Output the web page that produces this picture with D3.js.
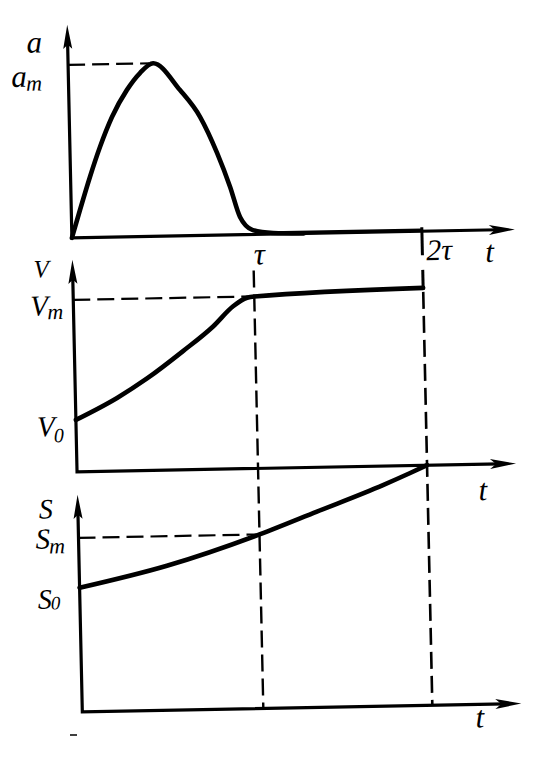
<!DOCTYPE html>
<html><head><meta charset="utf-8">
<script src="https://cdn.jsdelivr.net/npm/d3@7"></script>
<style>html,body{margin:0;background:#fff}svg{display:block}text{font-family:"Liberation Serif","DejaVu Serif",serif;font-style:italic;fill:#000}</style>
</head><body><svg id="c" width="536" height="758"></svg>
<script>
// time in units of tau
const timeTicks = [1, 2];
const timeTickLabels = ["τ", "2τ"];
// acceleration a(t) / a_m
const accT = [0, 0.048, 0.107, 0.166, 0.236, 0.322, 0.396, 0.47, 0.615, 0.723, 0.812, 0.88, 0.931, 1.0, 1.12, 1.3];
const accA = [0, 0.16, 0.35, 0.522, 0.694, 0.849, 0.945, 1.0, 0.842, 0.684, 0.475, 0.277, 0.102, 0.025, 0.006, 0];
// velocity V(t) / V_m
const velT = [0, 0.23, 0.398, 0.60, 0.769, 0.882, 0.96, 1.0, 2.0];
const velV = [0.302, 0.425, 0.535, 0.69, 0.83, 0.945, 0.993, 1.0, 1.031];
// displacement S(t) / S_m
const disT = [0, 0.485, 1.0, 1.343, 1.737, 1.896, 2.0];
const disS = [0.713, 0.83, 1.0, 1.125, 1.27, 1.335, 1.38];

const svg = d3.select("#c");
const g = svg.append("g")
  .attr("transform", "translate(70,470) matrix(1,-0.019,0.022,1,0,0) translate(-70,-470)");

const x = d3.scaleLinear().domain([0, 1, 2]).range([77, 258, 427]);
const yA = d3.scaleLinear().domain([0, 1]).range([238, 65]);
const yV = d3.scaleLinear().domain([0, 1]).range([472, 300]);
const yS = d3.scaleLinear().domain([0, 1]).range([712, 538]);

const panels = [
  {y: yA, top: 25, right: 520},
  {y: yV, top: 260, right: 516},
  {y: yS, top: 495, right: 516}
];

// axes
panels.forEach(p => {
  const x0 = x(0), y0 = p.y(0);
  g.append("path").attr("d", `M${x0},${p.top + 14}L${x0},${y0}L${p.right - 16},${y0}`)
    .attr("fill", "none").attr("stroke", "#000").attr("stroke-width", 3.2).attr("stroke-linejoin", "miter");
  g.append("path").attr("d", `M${x0},${p.top}L${x0 - 4.5},${p.top + 24}L${x0},${p.top + 20}L${x0 + 4.5},${p.top + 24}Z`).attr("fill", "#000");
  g.append("path").attr("d", `M${p.right},${y0}L${p.right - 26},${y0 - 5}L${p.right - 20},${y0}L${p.right - 26},${y0 + 5}Z`).attr("fill", "#000");
});

const line = (xs, ys, yscale) => d3.line().curve(d3.curveMonotoneX)
  .x((d, i) => x(xs[i])).y((d, i) => yscale(ys[i]))(xs);

// dashed guide lines
const dash = "17,7";
function dl(x1, y1, x2, y2, w) {
  g.append("line").attr("x1", x1).attr("y1", y1).attr("x2", x2).attr("y2", y2)
    .attr("stroke", "#000").attr("stroke-width", w || 2.2).attr("stroke-dasharray", dash);
}
const peakT = accT[accA.indexOf(d3.max(accA))];
dl(x(0), yA(1), x(peakT) - 4, yA(1));
dl(x(0), yV(1), x(1), yV(1));
dl(x(0), yS(1), x(1), yS(1));
dl(x(1), 274, x(1), yS(0), 2.4);
dl(x(2), yV(velV[velV.length - 1]) + 4, x(2), yS(0), 2.6);

// solid ticks at 2tau
g.append("line").attr("x1", x(2)).attr("x2", x(2)).attr("y1", yA(0) - 4).attr("y2", yA(0) + 24)
  .attr("stroke", "#000").attr("stroke-width", 3);
g.append("line").attr("x1", x(2)).attr("x2", x(2)).attr("y1", yV(velV[velV.length - 1]) + 2).attr("y2", yV(velV[velV.length - 1]) - 18)
  .attr("stroke", "#000").attr("stroke-width", 3);

// curves
[[accT, accA, yA], [velT, velV, yV], [disT, disS, yS]].forEach(([xs, ys, ysc]) => {
  g.append("path").attr("d", line(xs, ys, ysc)).attr("fill", "none")
    .attr("stroke", "#000").attr("stroke-width", 4.6).attr("stroke-linecap", "round").attr("stroke-linejoin", "round");
});
// a continues along the axis
g.append("line").attr("x1", x(1.1)).attr("x2", x(2)).attr("y1", yA(0) - 1).attr("y2", yA(0) - 1)
  .attr("stroke", "#000").attr("stroke-width", 3.6);

// labels
function label(main, sub, px, py, size, subSize, subDy) {
  const t = g.append("text").attr("x", px).attr("y", py).attr("font-size", size);
  t.append("tspan").text(main);
  if (sub) t.append("tspan").attr("font-size", subSize).attr("dy", subDy).attr("dx", -1).text(sub);
}
label("a", null, 36, 52, 31);
label("a", "m", 20, 86, 31, "22px", 4);
label("V", null, 38, 277, 25);
label("V", "m", 34, 315, 29, "22px", 4);
label("V", "0", 38, 436, 29, "20px", 6);
label("S", null, 38, 518, 28);
label("S", "m", 34, 548, 29, "22px", 5);
label("S", "0", 35, 608, 28, "19px", 1);

g.append("text").attr("x", x(timeTicks[0]) + 6).attr("y", 268).attr("font-size", 31).attr("text-anchor", "middle").text(timeTickLabels[0]);
g.append("text").attr("x", x(timeTicks[1]) + 4).attr("y", 267).attr("font-size", 30).text(timeTickLabels[1]);
g.append("text").attr("x", 490).attr("y", 270).attr("font-size", 31).text("t");
g.append("text").attr("x", 478).attr("y", 508).attr("font-size", 31).text("t");
g.append("text").attr("x", 470).attr("y", 735).attr("font-size", 31).text("t");

// small scan mark
svg.append("line").attr("x1", 70).attr("x2", 77).attr("y1", 735).attr("y2", 735).attr("stroke", "#000").attr("stroke-width", 1.5);
</script></body></html>
